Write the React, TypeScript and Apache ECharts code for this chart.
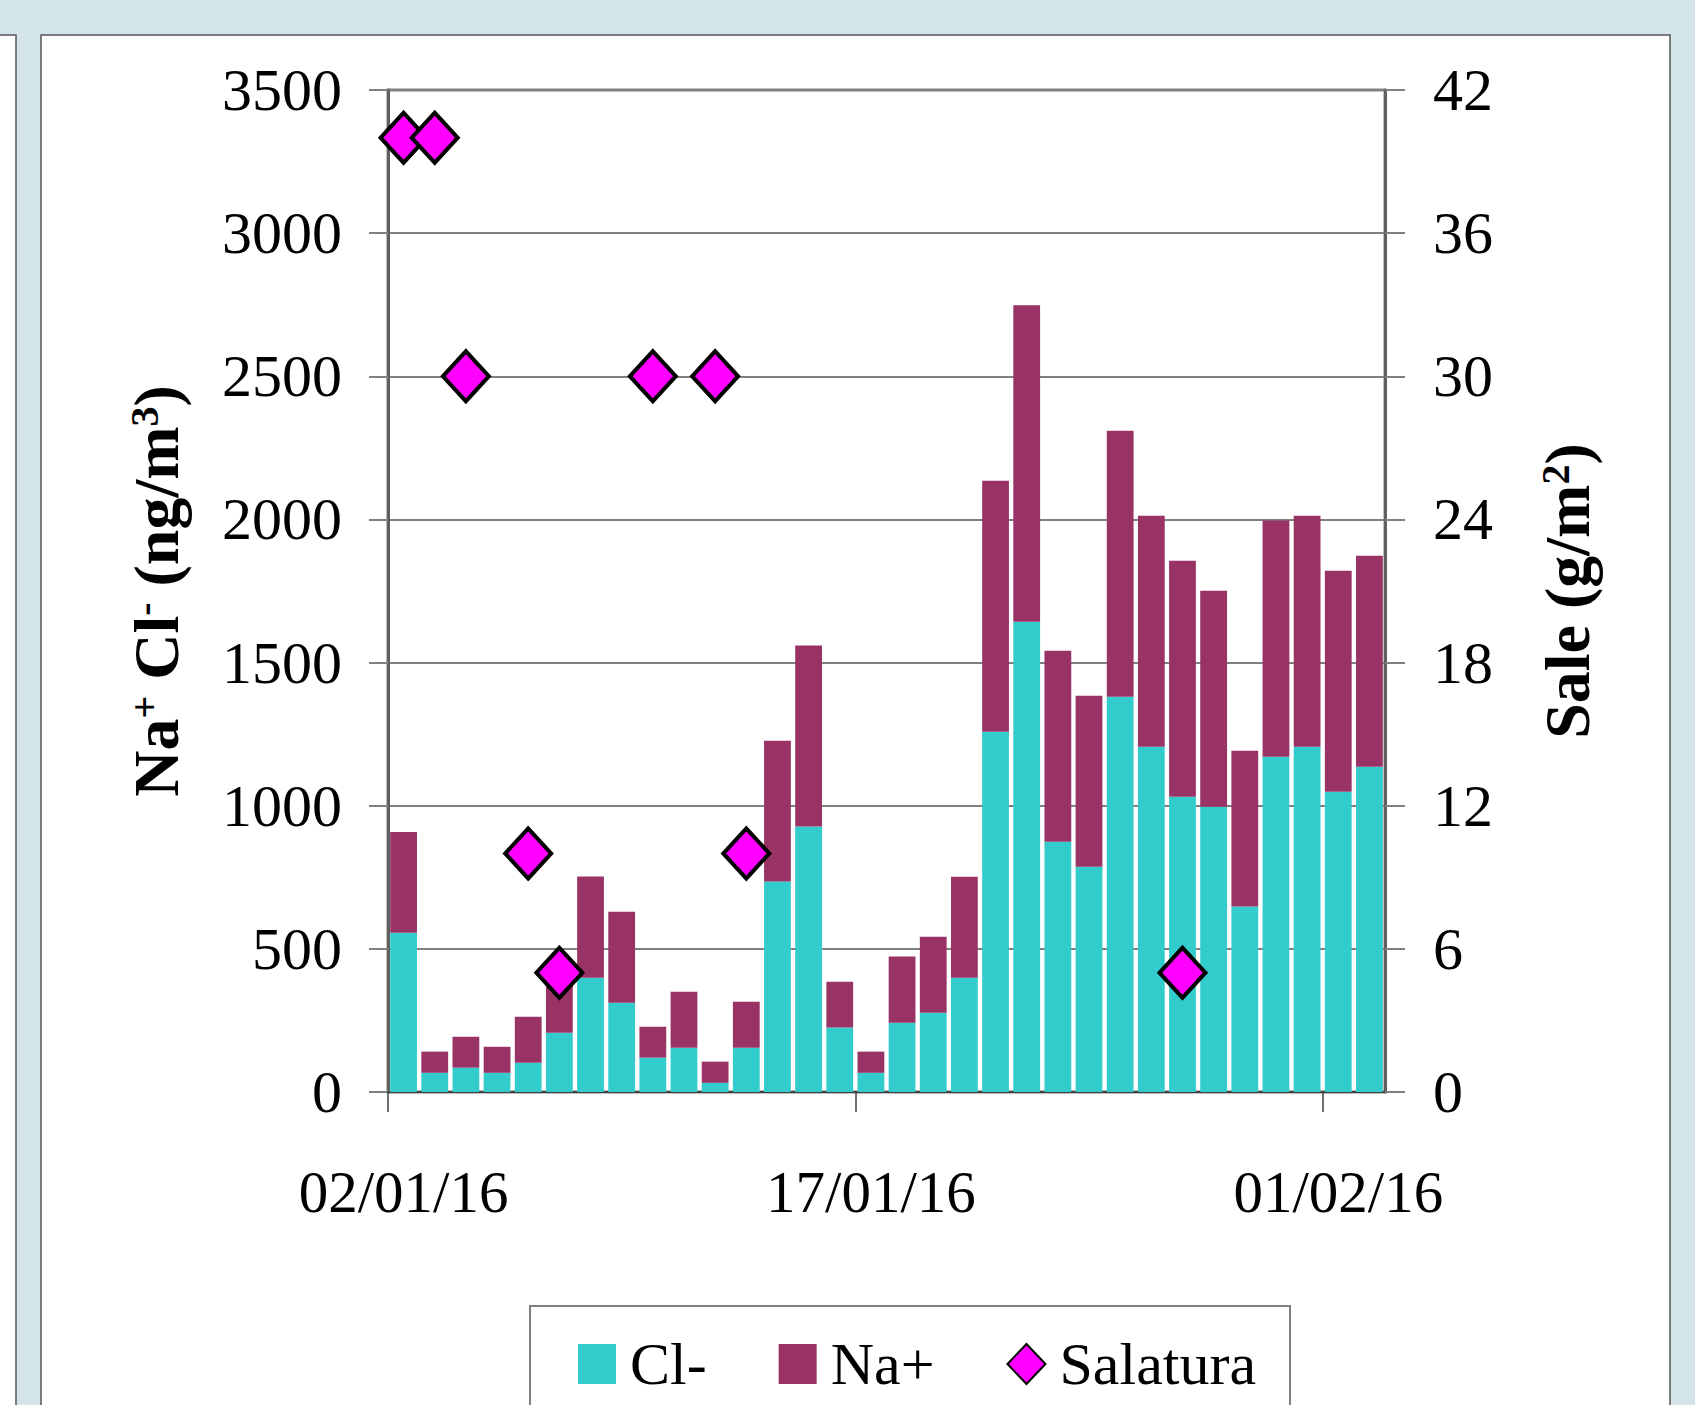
import React, { useEffect, useRef } from "react";
import * as echarts from "echarts";

const dates = [
  "02/01/16", "03/01/16", "04/01/16", "05/01/16", "06/01/16", "07/01/16", "08/01/16", "09/01/16",
  "10/01/16", "11/01/16", "12/01/16", "13/01/16", "14/01/16", "15/01/16", "16/01/16", "17/01/16",
  "18/01/16", "19/01/16", "20/01/16", "21/01/16", "22/01/16", "23/01/16", "24/01/16", "25/01/16",
  "26/01/16", "27/01/16", "28/01/16", "29/01/16", "30/01/16", "31/01/16", "01/02/16", "02/02/16",
];

const clValues = [
  556, 67, 85, 67, 102, 207, 399, 312, 120, 155, 32, 155, 735, 927, 225, 67,
  242, 277, 399, 1258, 1643, 874, 787, 1381, 1206, 1031, 996, 648, 1171, 1206, 1049, 1136,
];

const naValues = [
  352, 74, 108, 91, 161, 213, 354, 318, 108, 195, 74, 160, 492, 633, 160, 74,
  231, 265, 353, 877, 1105, 667, 597, 929, 807, 825, 755, 544, 825, 807, 772, 737,
];

const salaturaValues: (number | null)[] = [
  40, 40, 30, null, 10, 5, null, null, 30, null, 30, 10, null, null, null, null,
  null, null, null, null, null, null, null, null, null, 5, null, null, null, null, null, null,
];

const xTickIndices = [0, 15, 30];
const leftTicks = { min: 0, max: 3500, interval: 500 };
const rightTicks = { min: 0, max: 42, interval: 6 };

const FONT = '"Liberation Serif", "Times New Roman", serif';

export default function App() {
  const ref = useRef<HTMLDivElement>(null);

  useEffect(() => {
    if (!ref.current) return;
    const chart = echarts.init(ref.current, null, { renderer: "svg" });
    const showIdx = (i: number) => xTickIndices.indexOf(i) >= 0;

    const nameRich = {
      b: { fontSize: 64, fontWeight: "bold", fontFamily: FONT, color: "#000" },
      s: { fontSize: 40, fontWeight: "bold", fontFamily: FONT, color: "#000", verticalAlign: "top" },
    };

    chart.setOption({
      animation: false,
      backgroundColor: "#d3e5e8",
      textStyle: { fontFamily: FONT },
      graphic: [
        {
          type: "rect",
          z: -10,
          shape: { x: -5, y: 35, width: 21, height: 1420 },
          style: { fill: "#ffffff", stroke: "#555555", lineWidth: 1.5 },
        },
        {
          type: "rect",
          z: -10,
          shape: { x: 41, y: 35, width: 1629, height: 1420 },
          style: { fill: "#ffffff", stroke: "#555555", lineWidth: 1.5 },
        },
        {
          type: "rect",
          z: -5,
          shape: { x: 530, y: 1306, width: 760, height: 150 },
          style: { fill: "#ffffff", stroke: "#808080", lineWidth: 2 },
        },
      ],
      grid: {
        left: 388,
        right: 310,
        top: 90,
        bottom: 313,
        show: true,
        borderColor: "#808080",
        borderWidth: 3,
        backgroundColor: "transparent",
      },
      legend: {
        left: 573,
        top: 1329,
        itemWidth: 38,
        itemHeight: 40,
        itemGap: 72,
        textStyle: { fontSize: 60, color: "#000", fontFamily: FONT, padding: [0, 0, 0, 9] },
        data: [
          { name: "Cl-", icon: "rect" },
          { name: "Na+", icon: "rect" },
          { name: "Salatura", icon: "diamond" },
        ],
      },
      xAxis: [
        {
          type: "category",
          data: dates,
          boundaryGap: true,
          axisLine: { show: true, lineStyle: { color: "#404040", width: 2 } },
          axisTick: { show: false },
          axisLabel: {
            interval: (i: number) => showIdx(i),
            margin: 70,
            fontSize: 59,
            color: "#000",
            fontFamily: FONT,
          },
          splitLine: { show: false },
        },
        {
          type: "value",
          position: "bottom",
          min: 0,
          max: dates.length,
          interval: 15,
          axisLine: { show: false },
          axisLabel: { show: false },
          splitLine: { show: false },
          axisTick: {
            show: true,
            customValues: xTickIndices,
            length: 20,
            lineStyle: { color: "#404040", width: 1.5 },
          },
        },
      ],
      yAxis: [
        {
          type: "value",
          ...leftTicks,
          position: "left",
          name: "{b|Na}{s|+}{b| Cl}{s|-}{b| (ng/m}{s|3}{b|)}",
          nameLocation: "middle",
          nameRotate: 90,
          nameGap: 200,
          nameTextStyle: { rich: nameRich },
          axisLine: { show: true, lineStyle: { color: "#606060", width: 3 } },
          axisTick: { show: true, length: 19, lineStyle: { color: "#808080", width: 2 } },
          axisLabel: {
            margin: 46,
            fontSize: 60,
            color: "#000",
            fontFamily: FONT,
            formatter: (v: number) => String(v),
          },
          splitLine: { show: true, lineStyle: { color: "#808080", width: 2 } },
        },
        {
          type: "value",
          ...rightTicks,
          position: "right",
          name: "{b|Sale (g/m}{s|2}{b|)}",
          nameLocation: "middle",
          nameRotate: 90,
          nameGap: 150,
          nameTextStyle: { rich: nameRich },
          axisLine: { show: true, lineStyle: { color: "#606060", width: 3 } },
          axisTick: { show: true, length: 20, lineStyle: { color: "#808080", width: 2 } },
          axisLabel: {
            margin: 48,
            fontSize: 60,
            color: "#000",
            fontFamily: FONT,
            formatter: (v: number) => String(v),
          },
          splitLine: { show: false },
        },
      ],
      series: [
        {
          name: "Cl-",
          type: "bar",
          stack: "ions",
          barCategoryGap: "14%",
          itemStyle: { color: "#33CCCC" },
          data: clValues,
        },
        {
          name: "Na+",
          type: "bar",
          stack: "ions",
          barCategoryGap: "14%",
          itemStyle: { color: "#993366" },
          data: naValues,
        },
        {
          name: "Salatura",
          type: "scatter",
          yAxisIndex: 1,
          symbol: "diamond",
          symbolSize: [46, 50],
          itemStyle: { color: "#FF00FF", borderColor: "#000000", borderWidth: 4, opacity: 1 },
          data: salaturaValues.map((v) => (v === null ? "-" : v)),
          z: 5,
        },
      ],
    });

    return () => chart.dispose();
  }, []);

  return (
    <div
      ref={ref}
      style={{ position: "fixed", left: 0, top: 0, width: 1695, height: 1405 }}
    />
  );
}
